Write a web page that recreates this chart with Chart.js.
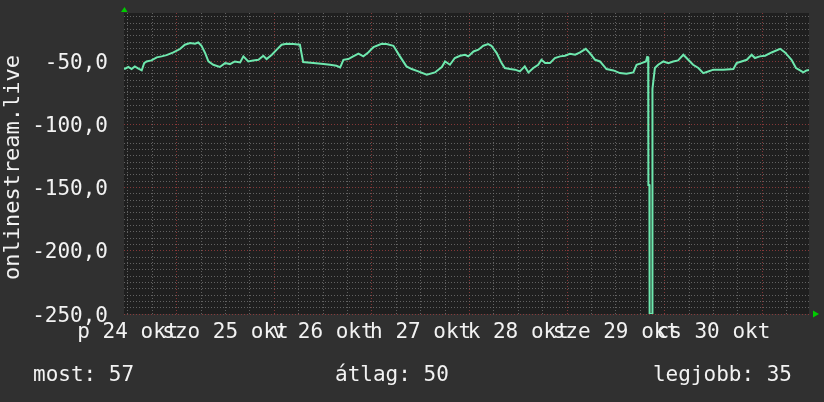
<!DOCTYPE html>
<html>
<head>
<meta charset="utf-8">
<script src="https://cdn.jsdelivr.net/npm/chart.js@4/dist/chart.umd.min.js"></script>
<style>
  html, body { margin: 0; padding: 0; background: #303030; }
  #c { display: block; }
</style>
</head>
<body>
<canvas id="c" width="824" height="402"></canvas>
<script>
// Hours since 24 Oct 00:00 and the measured value at each of them
const hours = [
  11.04, 11.3, 12.1, 12.9, 13.7, 14.6, 15.4, 16.0, 16.6, 17.8, 19.1, 20.3, 21.5, 23.2, 24.8,
  26.0, 27.3, 28.5, 29.3, 30.1, 31.0, 31.8, 33.0, 34.6, 35.9, 37.1, 38.3, 39.6, 40.4, 41.6,
  42.8, 44.1, 45.3, 46.1, 47.4, 48.6, 49.8, 51.0, 52.7, 54.3, 55.1, 57.6, 60.1, 61.7, 63.3,
  64.2, 65.0, 66.2, 67.4, 68.7, 69.9, 71.1, 72.4, 74.4, 75.6, 77.3, 78.9, 80.5, 81.8, 83.4,
  85.5, 87.5, 89.2, 90.0, 91.2, 92.4, 93.7, 94.9, 95.7, 97.0, 98.2, 99.4, 100.6, 101.4, 102.7,
  103.9, 104.7, 106.0, 107.2, 108.4, 109.6, 110.5, 111.7, 112.9, 113.7, 114.6, 115.8, 117.0, 118.3, 119.5,
  120.7, 122.0, 123.2, 124.6, 125.6, 126.9, 128.1, 129.7, 131.4, 133.0, 134.6, 136.3, 137.1, 138.3, 139.4,
  139.7, 139.95, 140.0, 140.25, 140.3, 140.9, 141.0, 141.6, 142.4, 143.7, 144.9, 146.1, 147.3, 148.6, 149.8,
  151.0, 152.3, 153.5, 154.7, 156.0, 158.4, 160.9, 161.7, 162.9, 164.2, 165.4, 166.2, 167.4, 168.7, 170.3,
  172.4, 173.6, 175.2, 176.3, 177.3, 178.1, 178.9, 179.5
];
const values = [
  -56, -56, -54.7, -56.3, -54.2, -56, -57.4, -51.6, -50.3, -49.5, -47.1, -46.3, -45.3, -43.2, -40.5,
  -37.1, -35.8, -36.3, -35.3, -37.9, -43.7, -50.3, -52.9, -54.7, -51.6, -52.4, -50.3, -51.1, -46.3, -50.3,
  -49.5, -49, -45.8, -48.4, -45, -41, -37.1, -36.3, -36.6, -37.1, -50.8, -51.6, -52.4, -52.9, -53.7,
  -55, -49, -48.4, -46.3, -44.2, -46.3, -43.2, -38.9, -36.3, -36.6, -37.9, -46.3, -54.2, -56.3, -58.2,
  -60.8, -59, -54.7, -50.3, -52.9, -47.6, -45.8, -45, -46.3, -42.4, -41, -37.9, -36.6, -37.9, -43.7,
  -51.6, -55.5, -56.3, -56.8, -58.2, -54.2, -59, -55.5, -52.9, -49, -51.6, -51.6, -47.6, -46.3, -45.8,
  -44.2, -45, -43.2, -40.3, -43.7, -49, -50.3, -56.3, -57.4, -59.5, -60, -59, -52.9, -51.6, -50.3,
  -46.8, -47, -148, -148, -250, -250, -72, -55.5, -52.9, -50.3, -51.6, -50.3, -49.5, -45, -49,
  -52.9, -55.5, -59.5, -58.2, -56.8, -56.8, -56.3, -51.6, -50.3, -49, -45, -47.6, -46.3, -45.8, -43.2,
  -40.3, -43.2, -49, -55.5, -57.4, -59, -57.4, -57
];

// Day labels, each centred on noon of its day
const dayNoons = [12, 36, 60, 84, 108, 132, 156];
const dayLabels = ['p 24 okt', 'szo 25 okt', 'v 26 okt', 'h 27 okt', 'k 28 okt', 'sze 29 okt', 'cs 30 okt'];

// Labelled value-axis ticks
const yLabelValues = [-50, -100, -150, -200, -250];

const axisTitle = 'onlinestream.live';
const summaryLabels = ['most: 57', 'átlag: 50', 'legjobb: 35'];

const FONT = '"DejaVu Sans Mono", "Liberation Mono", monospace';
const TEXT = '#f2f2f2';
const MINOR = 'rgba(120,120,120,0.75)';
const MAJOR = 'rgba(150,60,60,0.85)';

const decor = {
  id: 'decor',
  beforeDraw(chart) {
    const { ctx, chartArea: a } = chart;
    ctx.save();
    ctx.fillStyle = '#303030';
    ctx.fillRect(0, 0, chart.width, chart.height);
    ctx.fillStyle = '#1f1f1f';
    ctx.fillRect(a.left, a.top, a.right - a.left, a.bottom - a.top);
    ctx.restore();
  },
  afterDraw(chart) {
    const { ctx, chartArea: a, scales: { x, y } } = chart;
    ctx.save();
    ctx.fillStyle = TEXT;
    ctx.font = '21px ' + FONT;

    // value axis labels
    ctx.textAlign = 'right';
    ctx.textBaseline = 'alphabetic';
    yLabelValues.forEach(v => {
      ctx.fillText(v.toFixed(1).replace('.', ','), 108, y.getPixelForValue(v) + 7.5);
    });

    // day labels
    ctx.textAlign = 'center';
    dayNoons.forEach((h, i) => {
      ctx.fillText(dayLabels[i], x.getPixelForValue(h), 338);
    });

    // summary line
    ctx.textAlign = 'left';
    ctx.fillText(summaryLabels[0], 33, 381);
    ctx.fillText(summaryLabels[1], 335, 381);
    ctx.textAlign = 'right';
    ctx.fillText(summaryLabels[2], 792, 381);

    // vertical axis title
    ctx.save();
    ctx.translate(19, 167.5);
    ctx.rotate(-Math.PI / 2);
    ctx.textAlign = 'center';
    ctx.font = '22px ' + FONT;
    ctx.fillText(axisTitle, 0, 0);
    ctx.restore();

    // axis arrows
    ctx.fillStyle = '#00cc00';
    ctx.beginPath();
    ctx.moveTo(a.left - 3, a.top - 1);
    ctx.lineTo(a.left + 3.5, a.top - 1);
    ctx.lineTo(a.left + 0.5, a.top - 6);
    ctx.closePath();
    ctx.fill();
    ctx.beginPath();
    ctx.moveTo(a.right + 4, a.bottom - 3.5);
    ctx.lineTo(a.right + 4, a.bottom + 3.5);
    ctx.lineTo(a.right + 10, a.bottom);
    ctx.closePath();
    ctx.fill();
    ctx.restore();
  }
};

const gridStep = (from, to, step) => {
  const out = [];
  for (let v = from; v <= to + 1e-9; v += step) out.push({ value: v });
  return out;
};

new Chart(document.getElementById('c'), {
  type: 'line',
  data: {
    datasets: [{
      data: hours.map((h, i) => ({ x: h, y: values[i] })),
      borderColor: '#6ee8ae',
      borderWidth: 2,
      pointRadius: 0,
      tension: 0,
      fill: false
    }]
  },
  options: {
    responsive: false,
    devicePixelRatio: 1,
    animation: false,
    layout: { padding: { left: 0, top: 13, right: 15, bottom: 0 } },
    plugins: { legend: { display: false }, tooltip: { enabled: false } },
    scales: {
      x: {
        type: 'linear',
        min: 11.04,
        max: 179.5,
        afterBuildTicks: s => { s.ticks = gridStep(12, 179, 6); },
        afterFit: s => { s.height = 88; },
        ticks: { display: false },
        grid: {
          drawTicks: false,
          color: c => (c.tick && c.tick.value % 24 === 0 ? MAJOR : MINOR),
          lineWidth: 1
        },
        border: { display: false, dash: [1, 2] }
      },
      y: {
        min: -250,
        max: -12,
        afterBuildTicks: s => { s.ticks = gridStep(-250, -15, 5); },
        afterFit: s => { s.width = 124; },
        ticks: { display: false },
        grid: {
          drawTicks: false,
          color: c => (c.tick && c.tick.value % 50 === 0 ? MAJOR : MINOR),
          lineWidth: 1
        },
        border: { display: false, dash: [1, 2] }
      }
    }
  },
  plugins: [decor]
});
</script>
</body>
</html>
